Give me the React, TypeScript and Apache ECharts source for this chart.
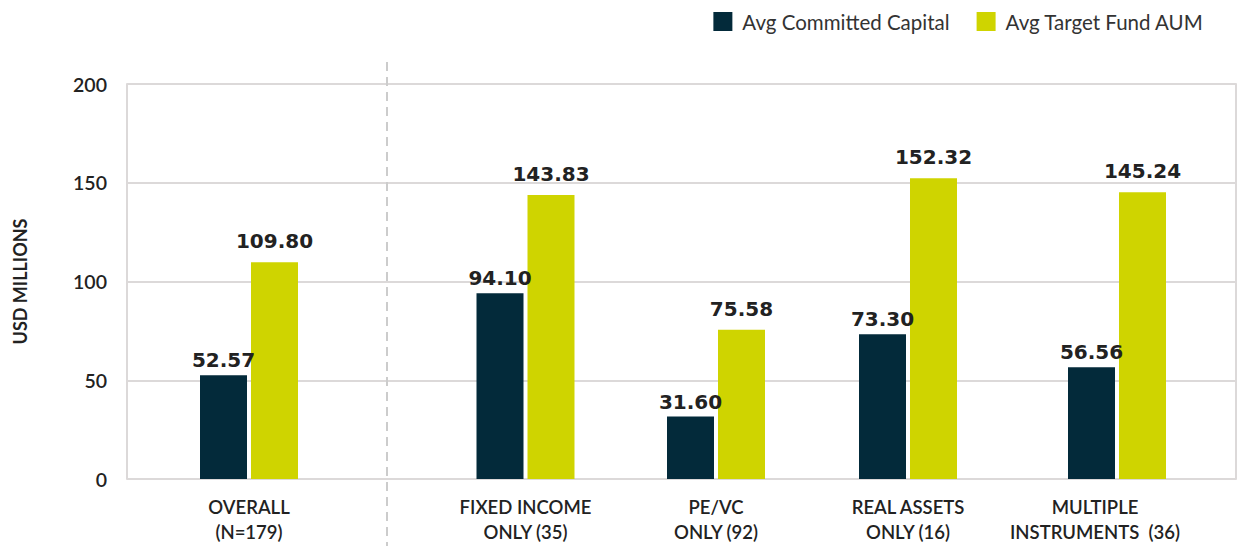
import React, { useEffect, useRef } from "react";
import * as echarts from "echarts";

const categories = [
  "OVERALL\n(N=179)",
  "FIXED INCOME\nONLY (35)",
  "PE/VC\nONLY (92)",
  "REAL ASSETS\nONLY (16)",
  "MULTIPLE\nINSTRUMENTS  (36)",
];
const committedCapital = [52.57, 94.1, 31.6, 73.3, 56.56];
const targetFundAUM = [109.8, 143.83, 75.58, 152.32, 145.24];
const seriesNames = ["Avg Committed Capital", "Avg Target Fund AUM"];
const yMin = 0;
const yMax = 200;
const yInterval = 50;

// layout (pixel positions of each category group)
const groupCenters = [249, 525.5, 716, 908, 1117];
const labelShift = [0, 0, 0, 0, 44];
const GRID_TOP = 84;
const GRID_BOTTOM = 69;
const DARK = "#032a3a";
const YELLOW = "#cfd400";
const GRIDLINE = "#dcd9d9";
const FONT = "Lato";

export default function App() {
  const ref = useRef<HTMLDivElement>(null);
  useEffect(() => {
    document.body.style.margin = "0";
    const chart = echarts.init(ref.current!, null, { renderer: "svg" });
    const grids: any[] = [
      { left: 127, right: 12, top: GRID_TOP, bottom: GRID_BOTTOM },
    ];
    const xAxes: any[] = [
      { gridIndex: 0, type: "category", data: [""], show: false },
    ];
    const yAxes: any[] = [
      {
        gridIndex: 0,
        type: "value",
        min: yMin,
        max: yMax,
        interval: yInterval,
        name: "USD MILLIONS",
        nameLocation: "middle",
        nameGap: 98,
        nameTextStyle: {
          fontFamily: FONT,
          fontWeight: "bold",
          fontSize: 18,
          color: "#222",
        },
        axisLine: { show: true, lineStyle: { color: GRIDLINE, width: 2 } },
        axisTick: { show: false },
        axisLabel: {
          margin: 20,
          fontFamily: FONT,
          fontSize: 19.5,
          fontWeight: 600,
          color: "#222",
        },
        splitLine: { show: true, lineStyle: { color: GRIDLINE, width: 2 } },
      },
      {
        gridIndex: 0,
        type: "value",
        position: "right",
        min: yMin,
        max: yMax,
        interval: yInterval,
        axisLine: { show: true, lineStyle: { color: GRIDLINE, width: 2 } },
        axisTick: { show: false },
        axisLabel: { show: false },
        splitLine: { show: false },
      },
    ];
    const series: any[] = [];
    categories.forEach((cat, i) => {
      const gi = i + 1;
      grids.push({
        left: groupCenters[i] - 75,
        width: 150,
        top: GRID_TOP,
        bottom: GRID_BOTTOM,
      });
      xAxes.push({
        gridIndex: gi,
        type: "category",
        data: [cat],
        axisLine: { show: false },
        axisTick: { show: false },
        axisLabel: {
          margin: 15,
          fontFamily: FONT,
          fontSize: 18.5,
          fontWeight: 600,
          color: "#222",
          lineHeight: 25,
          interval: 0,
          padding: [0, labelShift[i], 0, 0],
        },
      });
      yAxes.push({
        gridIndex: gi,
        type: "value",
        min: yMin,
        max: yMax,
        interval: yInterval,
        show: false,
      });
      const yi = yAxes.length - 1;
      const labelBase = {
        show: true,
        position: "top",
        fontFamily: "DejaVu Sans",
        fontWeight: "bold",
        fontSize: 20,
        color: "#222",
        formatter: (p: any) => Number(p.value).toFixed(2),
      };
      series.push({
        type: "bar",
        name: seriesNames[0],
        xAxisIndex: gi,
        yAxisIndex: yi,
        data: [committedCapital[i]],
        barWidth: 47,
        barGap: "8.5%",
        itemStyle: { color: DARK },
        label: { ...labelBase, distance: 5 },
      });
      series.push({
        type: "bar",
        name: seriesNames[1],
        xAxisIndex: gi,
        yAxisIndex: yi,
        data: [targetFundAUM[i]],
        barWidth: 47,
        barGap: "8.5%",
        itemStyle: { color: YELLOW },
        label: { ...labelBase, distance: 11 },
      });
    });
    chart.setOption({
      animation: false,
      color: [DARK, YELLOW],
      legend: {
        data: seriesNames,
        top: 6,
        right: 39,
        icon: "rect",
        itemWidth: 19,
        itemHeight: 19,
        itemGap: 27,
        textStyle: {
          fontFamily: FONT,
          fontSize: 20.5,
          color: "#333",
          padding: [0, 0, 0, 5],
        },
      },
      grid: grids,
      xAxis: xAxes,
      yAxis: yAxes,
      series,
      graphic: [
        {
          type: "line",
          shape: { x1: 387, y1: 62, x2: 387, y2: 546 },
          style: { stroke: "#cccccc", lineWidth: 2, lineDash: [9, 6] },
          z: 10,
        },
      ],
    });
    return () => chart.dispose();
  }, []);
  return <div ref={ref} style={{ width: 1248, height: 548 }} />;
}
